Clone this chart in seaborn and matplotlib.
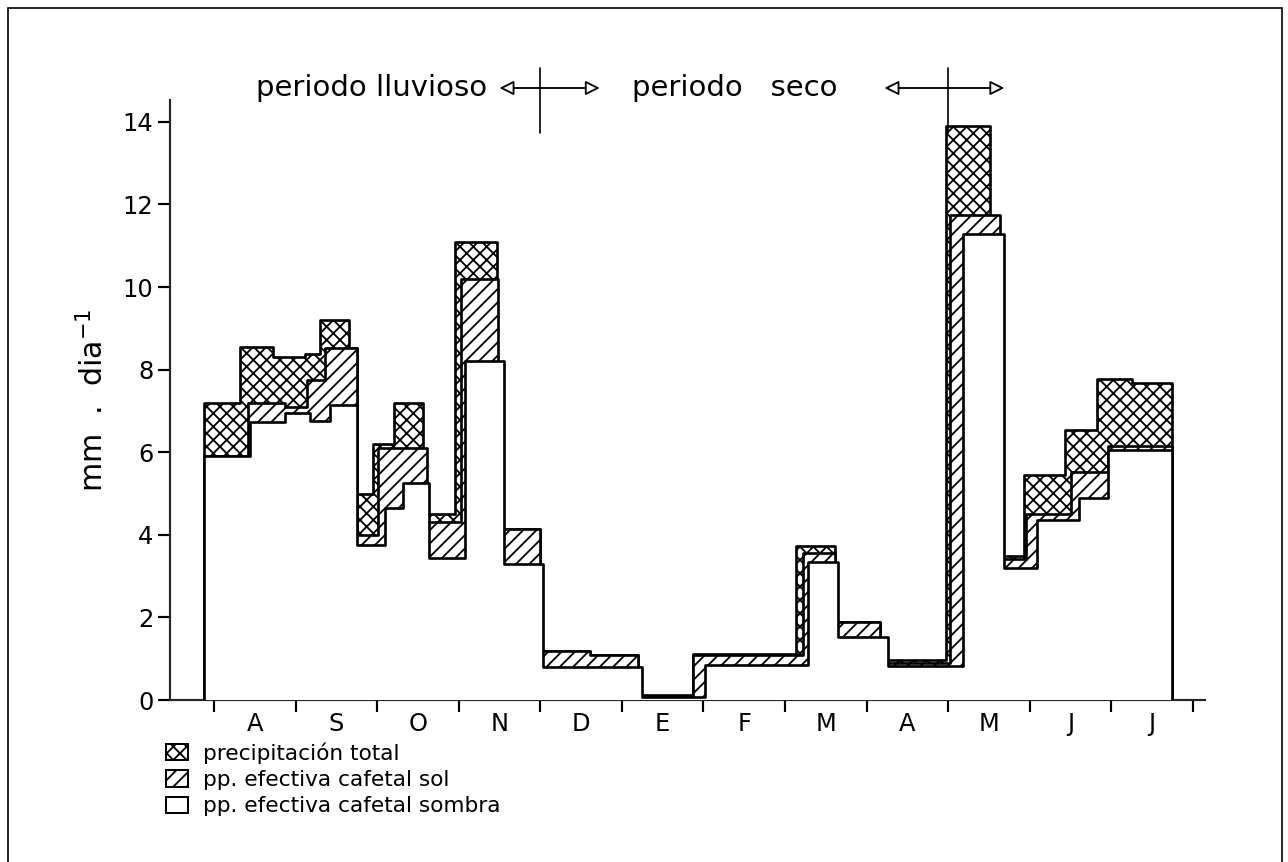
import matplotlib
matplotlib.use("Agg")
import matplotlib.pyplot as plt
import pandas as pd
import seaborn as sns
from matplotlib.patches import Patch, Rectangle

# Month labels (August to July)
months = ["A", "S", "O", "N", "D", "E", "F", "M", "A", "M", "J", "J"]

# Step series: period edges in months since 1 August, values in mm/day
total_edges = [-0.12, 0.32, 0.72, 1.12, 1.30, 1.65, 1.75, 1.95, 2.21, 2.56, 2.95, 3.47,
               4.00, 4.61, 5.20, 5.87, 7.14, 7.61, 8.16, 8.98, 9.51, 9.93, 10.43,
               10.83, 11.26, 11.74]
total_values = [7.2, 8.55, 8.3, 8.38, 9.2, 8.52, 5.0, 6.2, 7.2, 4.5, 11.1, 4.15,
                1.19, 1.09, 0.12, 1.12, 3.72, 1.9, 0.97, 13.9, 3.48, 5.45, 6.55,
                7.77, 7.67]

sol_edges = [-0.12, 0.42, 0.87, 1.14, 1.36, 1.75, 2.01, 2.61, 3.03, 3.48, 4.00, 4.61,
             5.20, 5.87, 7.22, 7.61, 8.16, 9.02, 9.64, 9.96, 10.51, 10.96, 11.74]
sol_values = [5.9, 7.2, 7.1, 7.75, 8.52, 4.0, 6.1, 4.3, 10.2, 4.15, 1.19, 1.09,
              0.1, 1.08, 3.55, 1.9, 0.9, 11.75, 3.42, 4.5, 5.52, 6.15]

sombra_edges = [-0.12, 0.44, 0.87, 1.18, 1.42, 1.75, 2.10, 2.32, 2.63, 3.08, 3.55, 4.03,
                5.25, 6.02, 7.28, 7.65, 8.26, 9.18, 9.69, 10.09, 10.61, 10.96, 11.74]
sombra_values = [5.9, 6.73, 6.95, 6.75, 7.15, 3.75, 4.65, 5.25, 3.44, 8.2, 3.3, 0.8,
                 0.08, 0.85, 3.33, 1.52, 0.82, 11.28, 3.2, 4.36, 4.9, 6.05]

# Boundaries between rainy and dry seasons
season_bounds = [4.0, 9.0]

y_ticks = [0, 2, 4, 6, 8, 10, 12, 14]

legend_labels = ["precipitación total",
                 "pp. efectiva cafetal sol",
                 "pp. efectiva cafetal sombra"]

DPI = 120
W, H = 1288, 862

sns.set_theme(style="ticks")
plt.rcParams.update({
    "font.family": ["DejaVu Sans"],
    "hatch.linewidth": 1.1,
    "hatch.color": "black",
    "axes.linewidth": 1.3,
    "xtick.major.width": 1.3,
    "ytick.major.width": 1.3,
    "xtick.color": "black",
    "ytick.color": "black",
    "text.color": "black",
    "axes.labelcolor": "black",
})

CROSS = "xxx"
DIAG = "///"

fig = plt.figure(figsize=(W / DPI, H / DPI), dpi=DPI)
fig.patch.set_facecolor("white")
ax = fig.add_axes([170 / W, 1 - 700 / H, (1205 - 170) / W, 600 / H])
ax.set_facecolor("white")


def step_outline(edges, values):
    xs, ys = [edges[0]], [0.0]
    for i, v in enumerate(values):
        xs += [edges[i], edges[i + 1]]
        ys += [v, v]
    xs.append(edges[-1])
    ys.append(0.0)
    return pd.DataFrame({"x": xs, "y": ys})


layers = [
    (total_edges, total_values, CROSS),
    (sol_edges, sol_values, DIAG),
    (sombra_edges, sombra_values, None),
]

for k, (edges, values, hatch) in enumerate(layers):
    yv = list(values) + [values[-1]]
    ax.fill_between(edges, 0, yv, step="post", facecolor="white",
                    edgecolor="black", hatch=hatch, linewidth=0,
                    zorder=2 + 2 * k)
    sns.lineplot(data=step_outline(edges, values), x="x", y="y", sort=False,
                 estimator=None, color="black", linewidth=1.6, ax=ax,
                 zorder=3 + 2 * k)

ax.set_xlim(-0.54, 12.15)
ax.set_ylim(0, 14.53)

ax.set_xticks(range(13))
ax.set_xticklabels([])
ax.set_xticks([i + 0.5 for i in range(12)], minor=True)
ax.set_xticklabels(months, minor=True, fontsize=14.5)
ax.tick_params(axis="x", which="major", length=7, direction="out")
ax.tick_params(axis="x", which="minor", length=0, pad=7)

ax.set_yticks(y_ticks)
ax.set_yticklabels([str(t) for t in y_ticks], fontsize=14.5)
ax.tick_params(axis="y", length=7, direction="out", pad=3)

ax.set_xlabel("")
ax.set_ylabel("mm  .  dia$^{-1}$", fontsize=18, labelpad=8)
sns.despine(ax=ax)

# Season markers above the plot
trans = ax.get_xaxis_transform()
ax.text(3.35, 1.02, "periodo lluvioso", transform=trans, ha="right",
        va="center", fontsize=17.5)
ax.text(5.12, 1.02, "periodo   seco", transform=trans, ha="left",
        va="center", fontsize=17.5)
arrow_spans = [(3.50, 4.73), (8.22, 9.69)]
for (a, b), xb in zip(arrow_spans, season_bounds):
    ax.annotate("", xy=(b, 1.02), xytext=(a, 1.02), xycoords=trans,
                textcoords=trans,
                arrowprops=dict(arrowstyle="<|-|>", fc="white", ec="black",
                                lw=1.1, mutation_scale=18, shrinkA=0, shrinkB=0))
    ax.plot([xb, xb], [0.945, 1.053], transform=trans, color="black",
            lw=1.0, clip_on=False)

handles = [
    Patch(facecolor="white", edgecolor="black", hatch=CROSS, linewidth=1.2),
    Patch(facecolor="white", edgecolor="black", hatch=DIAG, linewidth=1.2),
    Patch(facecolor="white", edgecolor="black", linewidth=1.2),
]
ax.legend(handles, legend_labels, loc="upper left",
          bbox_to_anchor=(166 / W, 1 - 742 / H), bbox_transform=fig.transFigure,
          frameon=False, fontsize=13, handlelength=1.0, handleheight=0.8,
          handletextpad=0.7, labelspacing=0.3, borderpad=0, borderaxespad=0)

# Page frame
fig.add_artist(Rectangle((8 / W, -0.02), (1282 - 8) / W, 1 - 8 / H + 0.02,
                         transform=fig.transFigure, fill=False,
                         edgecolor="black", linewidth=1.0))

fig.savefig("out.png", dpi=DPI, facecolor="white")
